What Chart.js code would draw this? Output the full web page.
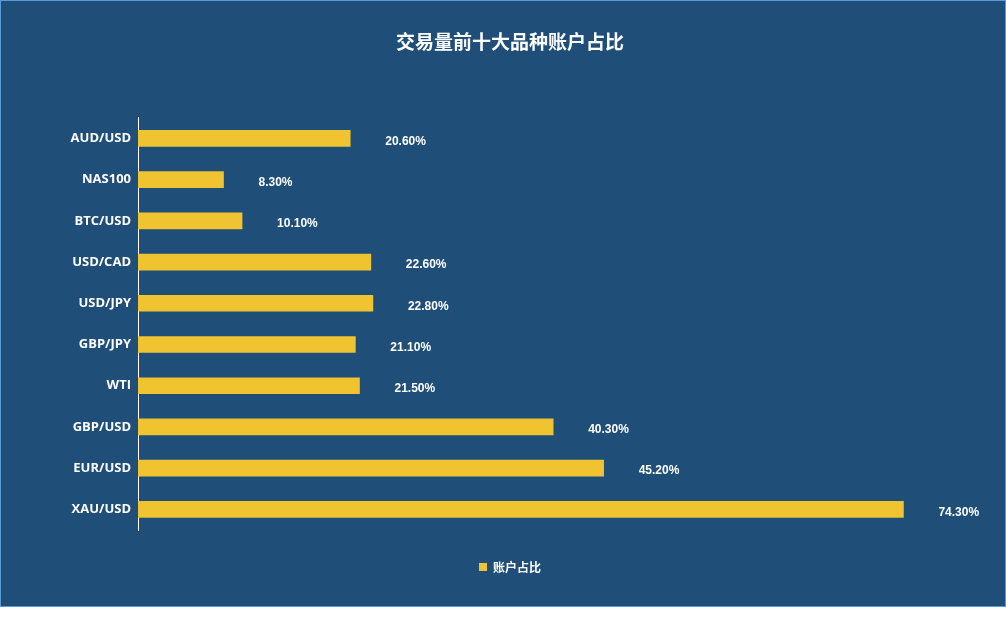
<!DOCTYPE html>
<html>
<head>
<meta charset="utf-8">
<script src="https://cdn.jsdelivr.net/npm/chart.js@4"></script>
<style>
  html, body { margin:0; padding:0; background:#fff; }
  .frame { position:absolute; left:0; top:0; width:1006px; height:607px; box-sizing:border-box;
    background:#1F4E79; border:1px solid #5B9BD5; }
  canvas { display:block; }
</style>
</head>
<body>
<div class="frame"><canvas id="c" width="1004" height="605"></canvas></div>
<script>
// 品种
const symbols = ['AUD/USD','NAS100','BTC/USD','USD/CAD','USD/JPY','GBP/JPY','WTI','GBP/USD','EUR/USD','XAU/USD'];
// 账户占比 (%)
const accountShare = [20.6, 8.3, 10.1, 22.6, 22.8, 21.1, 21.5, 40.3, 45.2, 74.3];
const seriesName = '账户占比';
const chartTitle = '交易量前十大品种账户占比';

// 数据标签
const barLabels = {
  id: 'barLabels',
  afterDatasetsDraw(chart) {
    const ctx = chart.ctx;
    const meta = chart.getDatasetMeta(0);
    ctx.save();
    ctx.font = 'bold 12px "Liberation Sans", Arial, sans-serif';
    ctx.fillStyle = '#ffffff';
    ctx.textAlign = 'left';
    ctx.textBaseline = 'middle';
    meta.data.forEach((bar, i) => {
      ctx.fillText(accountShare[i].toFixed(2) + '%', bar.x + 35, bar.y + 3);
    });
    ctx.restore();
  }
};

new Chart(document.getElementById('c'), {
  type: 'bar',
  data: {
    labels: symbols,
    datasets: [{ label: seriesName, data: accountShare, backgroundColor: '#F0C330',
      barThickness: 16 }]
  },
  options: {
    responsive: false,
    animation: false,
    indexAxis: 'y',
    layout: { padding: { left: 28, right: 14, bottom: 23 } },
    plugins: {
      title: { display: true, text: chartTitle, color: '#fff',
        font: { family: '"Noto Sans CJK SC", sans-serif', size: 19, weight: 'bold' },
        padding: { top: 29, bottom: 65 } },
      legend: { position: 'bottom',
        labels: { color: '#fff', boxWidth: 8, boxHeight: 8, padding: 31,
          font: { family: '"Noto Sans CJK SC", sans-serif', size: 12, weight: 'bold' } } },
      tooltip: { enabled: false }
    },
    scales: {
      x: { display: false, min: 0, max: 82.8 },
      y: {
        afterFit(scale) { scale.width = 109; },
        grid: { display: false, drawTicks: false },
        border: { display: true, color: '#ffffff', width: 1 },
        ticks: { color: '#fff', padding: 7,
          font: { family: '"Open Sans", sans-serif', size: 13, weight: 'bold' } }
      }
    }
  },
  plugins: [barLabels]
});
</script>
</body>
</html>
